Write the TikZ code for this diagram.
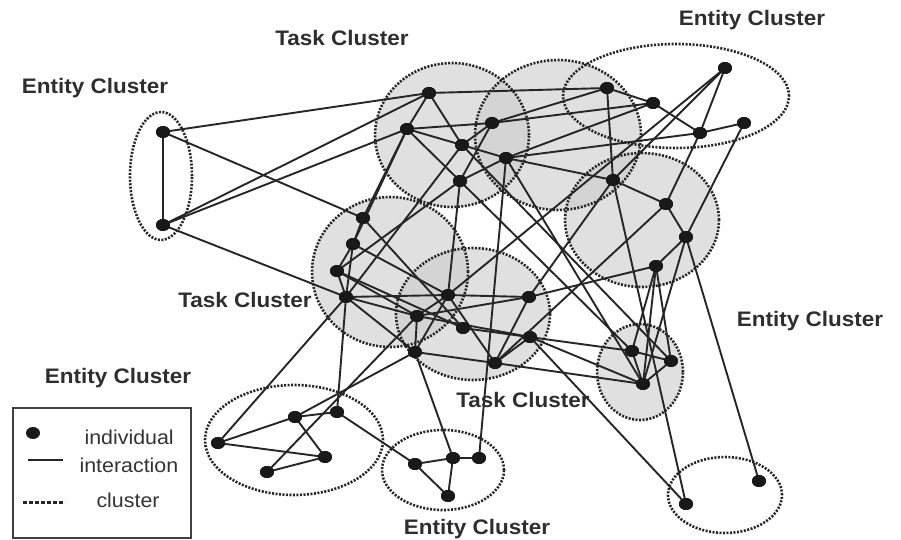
\documentclass[tikz,border=0pt]{standalone}
\usepackage{fontspec}
\setmainfont{Liberation Sans}
\newfontfamily\lblfont[FakeStretch=1.07]{Liberation Sans}
\usetikzlibrary{shapes.geometric}
\tikzset{
  ind/.style={ellipse, fill=black!90, inner sep=0pt, minimum width=14pt, minimum height=12pt},
  link/.style={line width=1.9pt, draw=black!85},
  clu/.style={draw=black!85, line width=2.6pt, dash pattern=on 2pt off 1.5pt},
  shade/.style={fill=black!12},
  shadeb/.style={fill=black!17},
  lbl/.style={font=\lblfont\bfseries\fontsize{21}{21}\selectfont, text=black!82},
  legtext/.style={font=\lblfont\fontsize{20}{20}\selectfont, text=black!80, anchor=west},
}
\begin{document}
\begin{tikzpicture}[x=1pt,y=-1pt]
\useasboundingbox (0,0) rectangle (901,540);
\def\tca{(452,135) ellipse [x radius=77pt, y radius=72pt]}
\def\tcb{(558,135) ellipse [x radius=83pt, y radius=75pt]}
\def\rc{(642,220) ellipse [x radius=77pt, y radius=67pt]}
\def\mca{(390,272) ellipse [x radius=78pt, y radius=75pt]}
\def\mcb{(473,314) ellipse [x radius=77pt, y radius=66pt]}
\def\sc{(640,372) ellipse [x radius=43pt, y radius=48pt]}
% task cluster fills
\fill[shade] \tca; \fill[shade] \tcb; \fill[shade] \rc;
\fill[shade] \mca; \fill[shade] \mcb; \fill[shade] \sc;
% overlaps, a shade darker
\begin{scope}\clip \tca; \fill[shadeb] \tcb; \end{scope}
\begin{scope}\clip \tcb; \fill[shadeb] \rc; \end{scope}
\begin{scope}\clip \mca; \fill[shadeb] \mcb; \end{scope}
\begin{scope}\clip \tca; \fill[shadeb] \mca; \end{scope}
% cluster outlines
\draw[clu] \tca; \draw[clu] \tcb; \draw[clu] \rc;
\draw[clu] \mca; \draw[clu] \mcb; \draw[clu] \sc;
\draw[clu] (161,176) ellipse [x radius=31pt, y radius=64pt];
\draw[clu] (676,96) ellipse [x radius=113pt, y radius=52pt];
\draw[clu] (294,440) ellipse [x radius=89pt, y radius=55pt];
\draw[clu] (443,470) ellipse [x radius=61pt, y radius=40pt];
\draw[clu] (725,495) ellipse [x radius=57pt, y radius=38pt];
% individuals
\foreach \n/\x/\y in {L1/163/132, L2/163/225,
  T1/429/93, T2/407/129, T3/462/145, T4/492/123, T5/506/158, T6/460/181,
  E1/725/68, E2/607/88, E3/653/103, E4/700/133, E5/744/123,
  R1/613/180, R2/666/204, R3/686/237, R4/656/266,
  S1/632/351, S2/671/361, S3/643/384, B1/686/504, B2/759/481,
  M1/363/218, M2/353/244, M3/337/271, M4/346/297, M5/448/295, M6/417/316,
  M7/463/328, M8/529/297, M9/530/337, M10/415/352, M11/495/363,
  BL1/218/443, BL2/295/417, BL3/337/412, BL4/325/457, BL5/267/472,
  BM1/415/464, BM2/453/458, BM3/479/458, BM4/448/496}
  \node[ind] (\n) at (\x,\y) {};
% interactions
\foreach \a/\b in {L1/L2, L1/T1, L1/M1, L2/T1, L2/T2, L2/M4,
  T1/T2, T1/T3, T1/E2, T2/T4, T2/T3, T2/M1, T2/M2, T2/T6,
  T3/T4, T3/T5, T3/M4, T3/S2, T4/E2, T4/E3, T4/T6,
  T5/T6, T5/R1, T5/E4, T5/E3, T5/BM3, T5/S3, T6/M5, T6/M3, T6/S1,
  E2/E3, E2/R1, E3/E4, E4/E1, E4/E5, E1/R1, E1/M5, E4/R2, E5/R3,
  R1/R2, R2/R3, R3/R4, R1/M8, R2/M11, R4/M8, R3/B2, R1/B1, R3/S3,
  R4/S1, R4/S2, R4/S3, S1/S2, S1/S3, S2/S3,
  M9/B1, M9/S3, M7/S1, M11/S3,
  M1/M2, M2/M3, M3/M4, M2/M4, M1/M7, M2/M5, M3/M6, M3/M7, M4/M5, M4/M6,
  M4/M10, M5/M6, M5/M10, M5/M8, M5/M11, M6/M10, M6/M8, M6/M9, M8/M11,
  M9/M11, M10/M11,
  BL1/BL2, BL2/BL3, BL1/BL4, BL2/BL4, BL4/BL5, BL1/M4, BL3/M4, BL5/M6,
  BL2/M10, BL3/BM1,
  BM1/BM2, BM2/BM3, BM2/BM4, BM1/BM4, BM2/M10}
  \draw[link] (\a.center) -- (\b.center);
% individuals drawn again above the interactions
\foreach \n in {L1,L2,T1,T2,T3,T4,T5,T6,E1,E2,E3,E4,E5,R1,R2,R3,R4,S1,S2,S3,B1,B2,
  M1,M2,M3,M4,M5,M6,M7,M8,M9,M10,M11,BL1,BL2,BL3,BL4,BL5,BM1,BM2,BM3,BM4}
  \fill[black!90] (\n.center) ellipse [x radius=7pt, y radius=6pt];
% labels
\node[lbl] (lt1) at (342,38) {Task Cluster};
\node[lbl] (le1) at (95,88) {Entity Cluster};
\node[lbl] (le2) at (752,20) {Entity Cluster};
\node[lbl] (lt2) at (245,300) {Task Cluster};
\node[lbl] (le3) at (810,321) {Entity Cluster};
\node[lbl] (le4) at (118,378) {Entity Cluster};
\node[lbl] (lt3) at (523,400) {Task Cluster};
\node[lbl] (le5) at (477,529) {Entity Cluster};
% legend
\node[draw=black!75, line width=1.5pt, minimum width=178pt, minimum height=130pt, inner sep=0pt] (legend) at (102,473) {};
\node[ind] (legdot) at (33,433) {};
\node[legtext] (legind) at (81,437) {individual};
\coordinate (lla) at (28,460);
\coordinate (llb) at (63,460);
\draw[line width=1.6pt, black!85] (lla) -- (llb);
\node[legtext] (legint) at (76,465) {interaction};
\coordinate (lca) at (23,502);
\coordinate (lcb) at (65,502);
\draw[line width=3pt, black!85, dash pattern=on 4pt off 2pt] (lca) -- (lcb);
\node[legtext] (legclu) at (93,500) {cluster};
\end{tikzpicture}
\end{document}
